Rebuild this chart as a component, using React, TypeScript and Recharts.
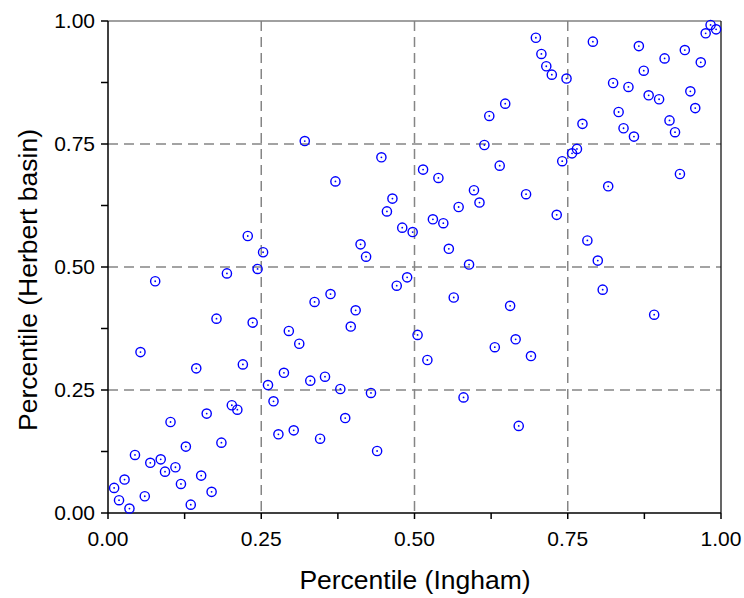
import { CartesianGrid, ReferenceLine, Scatter, ScatterChart, XAxis, YAxis } from 'recharts';

// percentile pairs
const ingham = [
  0.698, 0.707, 0.715, 0.724, 0.748, 0.791, 0.866, 0.908, 0.941, 0.967, 0.983, 0.992, 0.975, 0.874, 0.824, 0.849,
  0.882, 0.899, 0.95, 0.958, 0.833, 0.916, 0.925, 0.841, 0.858, 0.774, 0.765, 0.757, 0.741, 0.933, 0.816,
  0.648, 0.622, 0.614, 0.639, 0.514, 0.539, 0.446, 0.371, 0.321,
  0.682, 0.732, 0.782, 0.799, 0.807, 0.891, 0.656, 0.665,
  0.597, 0.606, 0.572, 0.464, 0.455, 0.53, 0.547, 0.48, 0.497, 0.412, 0.421, 0.556, 0.589, 0.488, 0.471, 0.363,
  0.337, 0.404, 0.396, 0.564, 0.505, 0.631,
  0.228, 0.253, 0.244, 0.194, 0.077, 0.177, 0.236, 0.295, 0.312,
  0.053, 0.144, 0.22, 0.287, 0.33, 0.261, 0.27, 0.202, 0.211, 0.161, 0.102, 0.278, 0.303, 0.185, 0.127, 0.044,
  0.069, 0.086, 0.093, 0.11, 0.152, 0.119, 0.169, 0.027, 0.01, 0.018, 0.06, 0.035, 0.135,
  0.354, 0.379, 0.429, 0.387, 0.346, 0.439, 0.521, 0.58, 0.67, 0.69,
];

const herbert = [
  0.966, 0.933, 0.908, 0.891, 0.883, 0.958, 0.949, 0.924, 0.941, 0.916, 0.992, 0.983, 0.975, 0.899, 0.874, 0.866,
  0.849, 0.841, 0.857, 0.823, 0.815, 0.798, 0.774, 0.782, 0.765, 0.791, 0.74, 0.731, 0.715, 0.689, 0.664,
  0.832, 0.807, 0.748, 0.706, 0.698, 0.681, 0.723, 0.674, 0.756,
  0.648, 0.606, 0.554, 0.513, 0.454, 0.403, 0.421, 0.353,
  0.656, 0.631, 0.622, 0.639, 0.613, 0.597, 0.589, 0.58, 0.571, 0.546, 0.521, 0.537, 0.505, 0.479, 0.462, 0.445,
  0.429, 0.412, 0.379, 0.438, 0.362, 0.337,
  0.563, 0.53, 0.496, 0.487, 0.471, 0.395, 0.387, 0.37, 0.344,
  0.327, 0.294, 0.302, 0.285, 0.269, 0.26, 0.227, 0.219, 0.21, 0.202, 0.185, 0.16, 0.168, 0.143, 0.135, 0.118,
  0.102, 0.109, 0.084, 0.093, 0.076, 0.059, 0.043, 0.068, 0.051, 0.026, 0.034, 0.009, 0.017,
  0.277, 0.252, 0.244, 0.193, 0.151, 0.126, 0.311, 0.235, 0.177, 0.319,
];

const axisTicks = [0, 0.125, 0.25, 0.375, 0.5, 0.625, 0.75, 0.875, 1];
const gridValues = [0.25, 0.5, 0.75];

const points = ingham.map((x, i) => ({ x, y: herbert[i] }));

const font = '"Liberation Sans", Arial, sans-serif';

const fmt = (v: number) => (Math.round(v * 1000) % 250 === 0 ? v.toFixed(2) : '');

const Marker = (props: any) => {
  const { cx, cy } = props;
  return (
    <g>
      <circle cx={cx} cy={cy} r={4.6} fill="none" stroke="#0000ff" strokeWidth={1.4} />
      <circle cx={cx} cy={cy} r={0.9} fill="#0000ff" />
    </g>
  );
};

export default function App() {
  return (
    <div style={{ position: 'absolute', left: 0, top: 0, width: 744, height: 598, background: '#fff' }}>
      <ScatterChart width={744} height={598} margin={{ top: 21, right: 23, bottom: 0, left: 0 }}>
        <CartesianGrid
          horizontalValues={gridValues}
          verticalValues={gridValues}
          stroke="#858585"
          strokeWidth={1.5}
          strokeDasharray="10 6"
        />
        <XAxis
          type="number"
          dataKey="x"
          domain={[0, 1]}
          ticks={axisTicks}
          tickFormatter={fmt}
          height={85}
          tickSize={6}
          tickMargin={12}
          axisLine={{ stroke: '#000', strokeWidth: 1.5 }}
          tickLine={{ stroke: '#000', strokeWidth: 1.5 }}
          tick={{ fill: '#000', fontSize: 21, fontFamily: font }}
          interval={0}
          label={{
            content: () => (
              <text x={415} y={589} textAnchor="middle" fontSize={26.5} fontFamily={font} fill="#000">
                Percentile (Ingham)
              </text>
            ),
          }}
        />
        <YAxis
          type="number"
          dataKey="y"
          domain={[0, 1]}
          ticks={axisTicks}
          tickFormatter={fmt}
          width={108}
          tickSize={7}
          tickMargin={6}
          axisLine={{ stroke: '#000', strokeWidth: 1.5 }}
          tickLine={{ stroke: '#000', strokeWidth: 1.5 }}
          tick={{ fill: '#000', fontSize: 21, fontFamily: font }}
          interval={0}
          label={{
            content: () => (
              <text
                x={37}
                y={280}
                transform="rotate(-90 37 280)"
                textAnchor="middle"
                fontSize={26.5}
                fontFamily={font}
                fill="#000"
              >
                Percentile (Herbert basin)
              </text>
            ),
          }}
        />
        <ReferenceLine y={1} stroke="#808080" strokeWidth={1.5} />
        <ReferenceLine x={1} stroke="#000" strokeWidth={1.2} />
        <Scatter data={points} shape={Marker} isAnimationActive={false} />
      </ScatterChart>
    </div>
  );
}
